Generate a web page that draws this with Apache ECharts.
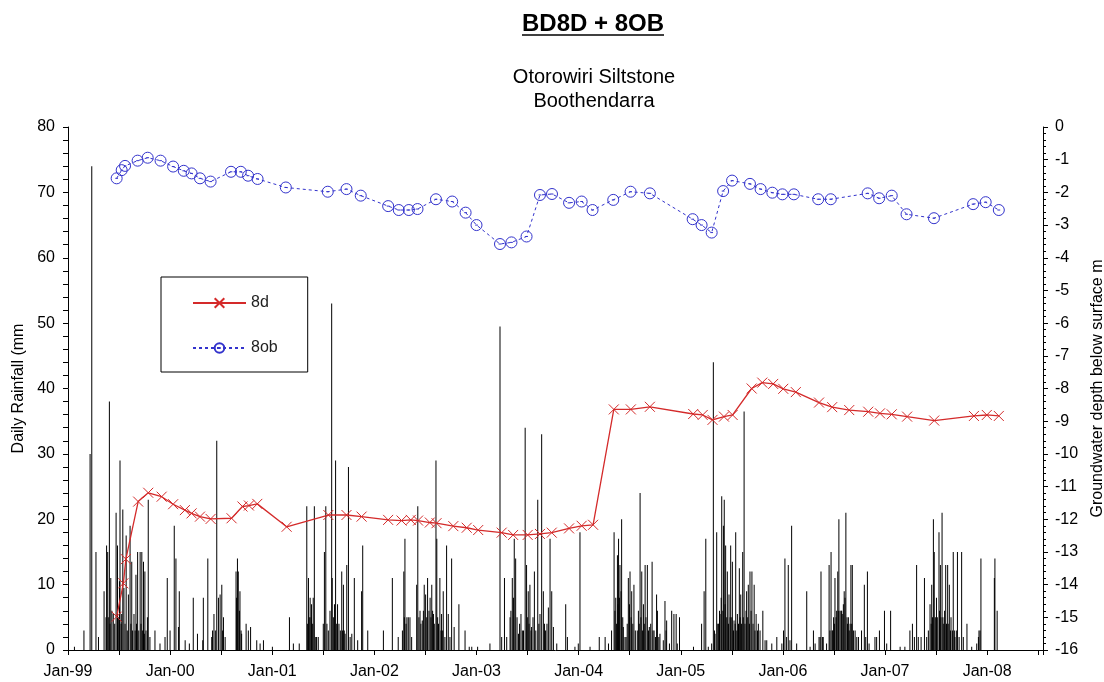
<!DOCTYPE html>
<html lang="en">
<head>
<meta charset="UTF-8">
<title>BD8D + 8OB</title>
<script src="https://cdn.jsdelivr.net/npm/echarts@6/dist/echarts.min.js"></script>
<style>
  html, body { margin: 0; padding: 0; background: #fff; }
  #chart { width: 1104px; height: 682px; }
</style>
</head>
<body>
<div id="chart"></div>
<script type="text/javascript">
    // day 0 of the time axis
    var startDate = '1999-01-01';

    // daily rainfall (mm), day = days after 1 Jan 1999
    var rainDay = [23, 57, 79, 85, 100, 109, 129, 136, 138, 142, 144, 148, 150, 153, 157, 162, 167, 172, 177, 180,
        184, 186, 190, 192, 196, 200, 204, 208, 212, 216, 222, 225, 228, 231, 236, 240, 243, 245, 249, 253,
        258, 261, 264, 267, 270, 273, 275, 279, 284, 287, 293, 311, 329, 347, 355, 365, 380, 386, 395, 398,
        419, 434, 448, 463, 482, 484, 500, 514, 517, 522, 527, 532, 538, 544, 550, 553, 556, 562, 601, 603,
        606, 609, 613, 615, 619, 621, 637, 645, 653, 675, 687, 699, 731, 792, 806, 827,
        854, 857, 860, 863, 866, 869, 871, 875, 877, 881, 886, 889, 895, 913, 917, 922, 926, 931, 937, 943,
        945, 949, 953, 957, 961, 964, 969, 974, 979, 982, 985, 988, 991, 997, 1003, 1009, 1015, 1024, 1036, 1050,
        1054, 1072, 1128, 1160, 1181, 1196, 1201, 1203, 1205, 1209, 1212, 1217, 1223, 1229, 1247, 1251, 1255, 1259, 1262, 1267,
        1271, 1274, 1279, 1283, 1286, 1291, 1295, 1298, 1301, 1304, 1307, 1310, 1316, 1319, 1322, 1325, 1330, 1334, 1336, 1340,
        1342, 1348, 1354, 1360, 1366, 1372, 1381, 1398, 1420, 1435, 1444, 1465, 1509, 1545, 1551, 1561, 1569, 1581, 1584, 1589,
        1593, 1596, 1601, 1606, 1611, 1615, 1620, 1625, 1629, 1635, 1640, 1644, 1646, 1649, 1652, 1656, 1658, 1663, 1668, 1673,
        1680, 1684, 1688, 1694, 1700, 1704, 1708, 1713, 1718, 1724, 1730, 1736,
        1748, 1780, 1786, 1813, 1825, 1831, 1867, 1900, 1921, 1933, 1944, 1953, 1956, 1959, 1962, 1965, 1967, 1969, 1972, 1974,
        1978, 1980, 1984, 1986, 1992, 1996, 2000, 2004, 2008, 2010, 2014, 2016, 2020, 2024, 2029, 2036, 2040, 2043, 2046, 2049,
        2052, 2055, 2058, 2061, 2064, 2067, 2072, 2076, 2079, 2084, 2089, 2092, 2096, 2101, 2105, 2108, 2113, 2117, 2129, 2135,
        2139, 2141, 2151, 2159, 2167, 2175, 2179, 2187, 2237, 2266, 2275, 2281, 2290, 2302, 2308, 2312, 2314, 2320, 2324, 2326,
        2330, 2332, 2336, 2338, 2342, 2344, 2347, 2350, 2352, 2356, 2358, 2362, 2364, 2368, 2370, 2374, 2376, 2380, 2382, 2386,
        2388, 2392, 2394, 2398, 2401, 2404, 2406, 2409, 2413, 2415, 2418, 2421, 2425, 2427, 2431, 2433, 2437, 2439, 2443, 2446,
        2450, 2454, 2457, 2461, 2466, 2469, 2475, 2485, 2493, 2499, 2517, 2535, 2553, 2559, 2564, 2570, 2576, 2582, 2588, 2606,
        2642, 2654, 2666, 2672, 2686, 2690, 2693, 2698, 2701, 2713, 2722, 2725, 2729, 2733, 2735, 2738, 2741, 2743, 2747, 2749,
        2753, 2755, 2757, 2761, 2765, 2767, 2769, 2773, 2776, 2779, 2782, 2786, 2788, 2791, 2794, 2797, 2800, 2803, 2805, 2809,
        2815, 2821, 2827, 2838, 2848, 2853, 2859, 2865, 2886, 2892, 2902, 2920, 2928, 2942, 2976, 2993, 3011, 3020, 3027, 3035,
        3041, 3051, 3063, 3071, 3077, 3083, 3087, 3089, 3092, 3095, 3098, 3102, 3106, 3109, 3115, 3117, 3120, 3122, 3126, 3129,
        3132, 3135, 3139, 3142, 3146, 3148, 3152, 3156, 3158, 3163, 3166, 3170, 3172, 3177, 3181, 3187, 3196, 3202, 3215, 3232,
        3250, 3256, 3258, 3262, 3265, 3313, 3315, 3323];
    var rainMm = [0.5, 3, 30, 74, 15, 2, 9, 5, 16, 15, 5, 38, 4, 11, 6, 5.5, 4, 21, 16, 5,
        10.5, 29, 4, 5.5, 21.5, 9.5, 4, 17.5, 3, 8.5, 19, 4, 13.5, 3, 5.5, 3, 11.5, 4, 15, 3,
        15, 4, 15, 3, 13.5, 2.5, 12, 3, 5, 23, 2, 3, 1, 2, 11, 3, 19, 14, 3.5, 9,
        1.5, 1, 8, 2.5, 1.5, 8, 14, 2, 3, 5.5, 3, 32, 8, 8.5, 10, 3, 5, 2, 12, 8,
        14, 12, 6, 9, 3, 2.5, 4, 3, 3.5, 1.5, 1, 1.5, 0.5, 5, 1, 1,
        22, 4, 11, 5, 8, 5, 7, 4, 8, 22, 2, 2, 2, 4, 15, 22, 4, 3, 6, 53,
        11, 5, 7, 29, 4, 7, 4, 3, 12, 3, 10, 3, 2.5, 13, 28, 2, 2.5, 11, 1.5, 9,
        16, 3, 3, 11, 2, 3, 12, 5, 17, 4, 5, 5, 5, 2, 10, 22, 5, 6, 4, 4.5,
        6, 10, 8.5, 5, 11, 6, 8, 5, 10, 6, 5.5, 4, 29, 17, 5, 4, 11, 3, 5.5, 3,
        9, 2, 16, 5.5, 2, 14, 3.5, 7, 3, 0.5, 0.5, 0.5, 1, 49.5, 2, 11, 2, 5, 6, 11,
        8, 17, 14, 5, 2.5, 4, 5.5, 3, 3, 34, 13, 5, 9, 4, 10, 3, 3.5, 5, 12, 3,
        23, 4, 5.5, 33, 9, 4, 3, 4, 6.5, 17, 9, 3.5,
        1, 7, 2, 0.5, 1, 18, 0.5, 2, 2, 1, 3, 18, 6, 8, 4, 14.5, 7, 17, 8, 13,
        9, 20, 5, 3.5, 2, 2, 4, 11, 7, 12, 5, 9, 4, 10, 3, 3, 6, 4, 24, 5,
        12, 3, 7, 4, 13, 5, 13, 3, 3.5, 4, 13.5, 3, 3, 2, 8.5, 6, 2, 2.5, 1.5, 7.5,
        3, 4.5, 1, 6, 5.5, 5.5, 1, 5, 0.5, 4, 9, 17, 0.5, 1, 44, 3, 2.5, 18, 4, 4,
        6, 5.5, 8, 23.5, 6, 19, 23, 7, 16, 5, 12, 4, 8.5, 5, 16, 5, 13.5, 3, 4.5, 4,
        18, 3, 5.5, 4, 12.5, 5, 8.5, 4, 15, 5, 36.5, 4, 6, 9, 5, 10, 4, 12, 6, 12,
        4, 10, 3, 5.5, 3, 4, 3, 6, 1.5, 1.5, 1, 2, 1, 3, 14, 2, 13, 1.5, 19, 1,
        9, 0.5, 3, 1, 2, 2, 12, 2, 2, 1, 13, 3, 15, 3, 3, 5, 4, 11, 5, 6,
        12, 6, 20, 6, 6, 6, 5.5, 7, 9, 8, 21, 5, 4, 5, 3, 4, 13, 4, 13, 3,
        3, 2, 2, 3, 10, 2, 12, 1, 2, 2, 3, 6, 1, 6, 0.5, 0.5, 3, 4, 2, 13,
        2, 2, 11, 2, 3, 7, 4, 10, 5, 20, 15, 5, 8, 5, 18, 6, 13, 5, 21, 5,
        4, 6, 13, 4, 13, 4, 10, 3, 5, 3, 15, 3, 2, 3, 15, 2, 15, 2, 4, 0.5,
        1, 2, 3, 3, 14, 11, 14, 6];

    // groundwater depth below surface (m)
    var d8Dates = ['1999-06-24', '1999-07-18', '1999-07-27', '1999-09-09', '1999-10-15', '1999-12-02', '2000-01-12',
        '2000-02-23', '2000-03-18', '2000-04-17', '2000-05-25', '2000-08-08', '2000-09-16', '2000-10-09', '2000-11-08',
        '2001-02-21', '2001-07-20', '2001-09-23', '2001-11-16', '2002-02-19', '2002-04-08', '2002-05-11', '2002-06-06',
        '2002-07-18', '2002-08-11', '2002-10-10', '2002-11-27', '2003-01-07', '2003-04-01', '2003-05-12', '2003-07-03',
        '2003-08-16', '2003-09-27', '2003-11-28', '2004-01-12', '2004-02-22', '2004-05-06', '2004-07-06', '2004-09-12',
        '2005-02-14', '2005-03-20', '2005-04-24', '2005-06-04', '2005-07-05', '2005-09-11', '2005-10-19', '2005-11-27',
        '2006-01-02', '2006-02-16', '2006-05-10', '2006-06-26', '2006-08-26', '2006-11-02', '2006-12-14', '2007-01-25',
        '2007-03-21', '2007-06-26', '2007-11-15', '2007-12-31', '2008-02-12'];
    var d8Depth = [-14.98, -13.96, -13.22, -11.46, -11.19, -11.31, -11.54,
        -11.72, -11.82, -11.92, -11.99, -11.97, -11.61, -11.58, -11.53,
        -12.23, -11.87, -11.87, -11.92, -12.02, -12.04, -12.02, -12.04,
        -12.10, -12.12, -12.21, -12.26, -12.33, -12.41, -12.48, -12.48,
        -12.45, -12.41, -12.28, -12.20, -12.17, -8.64, -8.64, -8.56,
        -8.78, -8.81, -8.96, -8.86, -8.81, -8.00, -7.82, -7.86,
        -8.01, -8.11, -8.43, -8.57, -8.66, -8.71, -8.76, -8.79,
        -8.86, -8.98, -8.84, -8.81, -8.84];

    var ob8Dates = ['1999-06-24', '1999-07-12', '1999-07-24', '1999-09-07', '1999-10-13', '1999-11-28', '2000-01-12',
        '2000-02-19', '2000-03-18', '2000-04-17', '2000-05-25', '2000-08-06', '2000-09-10', '2000-10-06', '2000-11-09',
        '2001-02-18', '2001-07-18', '2001-09-23', '2001-11-13', '2002-02-19', '2002-03-29', '2002-05-04', '2002-06-04',
        '2002-08-09', '2002-10-06', '2002-11-23', '2003-01-01', '2003-03-26', '2003-05-06', '2003-06-29', '2003-08-16',
        '2003-09-28', '2003-11-28', '2004-01-12', '2004-02-20', '2004-05-04', '2004-07-05', '2004-09-12', '2005-02-12',
        '2005-03-16', '2005-04-21', '2005-06-01', '2005-07-03', '2005-09-05', '2005-10-13', '2005-11-24', '2005-12-30',
        '2006-02-09', '2006-05-07', '2006-06-21', '2006-10-31', '2006-12-11', '2007-01-25', '2007-03-19', '2007-06-25',
        '2007-11-12', '2007-12-27', '2008-02-12'];
    var ob8Depth = [-1.57, -1.32, -1.19, -1.03, -0.94, -1.03, -1.21,
        -1.34, -1.42, -1.57, -1.67, -1.37, -1.37, -1.49, -1.59,
        -1.85, -1.98, -1.90, -2.10, -2.42, -2.54, -2.54, -2.51,
        -2.21, -2.28, -2.62, -3.00, -3.58, -3.53, -3.35, -2.08,
        -2.05, -2.32, -2.28, -2.54, -2.23, -1.98, -2.03, -2.82,
        -3.00, -3.23, -1.96, -1.64, -1.74, -1.90, -2.01, -2.06,
        -2.06, -2.21, -2.21, -2.03, -2.18, -2.10, -2.67, -2.79,
        -2.36, -2.30, -2.54];

    var halfYear = 182.625;
    var lastDay = 3487;

    function dayOf(s) {
        return Math.round((Date.parse(s) - Date.parse(startDate)) / 86400000);
    }
    function pairs(xs, ys, conv) {
        return xs.map(function (x, i) { return [conv ? conv(x) : x, ys[i]]; });
    }

    var font = 'Liberation Sans, Arial, sans-serif';
    var xMark = 'path://M0,0L10,10M10,0L0,10';
    var oMark = 'path://M12,6A6,6 0 1 1 0,6A6,6 0 1 1 12,6ZM4.5,6L7.5,6';

    var myChart = echarts.init(document.getElementById('chart'));
    var option = {
        animation: false,
        backgroundColor: '#fff',
        textStyle: {fontFamily: font, color: '#000'},
        title: [
            {
                text: 'BD8D + 8OB',
                left: 588,
                top: 7,
                textAlign: 'center',
                textStyle: {fontFamily: font, fontSize: 24, fontWeight: 'bold', color: '#000'}
            },
            {
                text: 'Otorowiri Siltstone\nBoothendarra',
                left: 589,
                top: 60,
                textAlign: 'center',
                textStyle: {fontFamily: font, fontSize: 20, fontWeight: 'normal', lineHeight: 24, color: '#000'}
            }
        ],
        graphic: [
            {type: 'line', shape: {x1: 522, y1: 35, x2: 664, y2: 35}, style: {stroke: '#000', lineWidth: 1.5}}
        ],
        legend: {
            data: ['8d', '8ob'],
            orient: 'vertical',
            left: 161,
            top: 277,
            padding: [18, 30, 16, 31],
            itemWidth: 53,
            itemHeight: 12,
            itemGap: 29,
            backgroundColor: '#fff',
            borderColor: '#000',
            borderWidth: 1,
            borderRadius: 0,
            textStyle: {fontFamily: font, fontSize: 16, color: '#222'}
        },
        grid: {left: 68, right: 61, top: 127, bottom: 32, outerBoundsMode: 'none'},
        xAxis: {
            type: 'value',
            min: 0,
            max: lastDay,
            interval: halfYear,
            splitLine: {show: false},
            axisLine: {lineStyle: {color: '#000'}},
            axisTick: {length: 5, lineStyle: {color: '#000'}},
            axisLabel: {
                fontFamily: font, fontSize: 16, color: '#000', margin: 14,
                formatter: function (v) {
                    var k = Math.round(v / halfYear);
                    if (Math.abs(v - k * halfYear) > 1 || k % 2) return '';
                    var yy = (1999 + k / 2) % 100;
                    return 'Jan-' + (yy < 10 ? '0' : '') + yy;
                }
            }
        },
        yAxis: [
            {
                type: 'value',
                position: 'left',
                min: 0,
                max: 80,
                interval: 10,
                name: 'Daily Rainfall (mm',
                nameLocation: 'middle',
                nameRotate: 90,
                nameGap: 41,
                nameTextStyle: {fontFamily: font, fontSize: 16, color: '#000'},
                splitLine: {show: false},
                axisLine: {show: true, lineStyle: {color: '#000'}},
                axisTick: {show: true, length: 5, lineStyle: {color: '#000'}},
                minorTick: {show: true, splitNumber: 5, length: 5, lineStyle: {color: '#000'}},
                axisLabel: {fontFamily: font, fontSize: 16, color: '#000', margin: 13}
            },
            {
                type: 'value',
                position: 'right',
                min: -16,
                max: 0,
                interval: 1,
                name: 'Groundwater depth below surface m',
                nameLocation: 'middle',
                nameRotate: 90,
                nameGap: 47,
                nameTextStyle: {fontFamily: font, fontSize: 16, color: '#000'},
                splitLine: {show: false},
                axisLine: {show: true, lineStyle: {color: '#000'}},
                axisTick: {show: true, length: 5, lineStyle: {color: '#000'}},
                minorTick: {show: true, splitNumber: 5, length: 3, lineStyle: {color: '#000'}},
                axisLabel: {fontFamily: font, fontSize: 16, color: '#000', margin: 12}
            }
        ],
        series: [
            {
                name: 'rain',
                type: 'bar',
                yAxisIndex: 0,
                barWidth: 1,
                itemStyle: {color: '#000'},
                data: pairs(rainDay, rainMm)
            },
            {
                name: '8d',
                type: 'line',
                yAxisIndex: 1,
                symbol: xMark,
                symbolSize: 10,
                lineStyle: {color: '#d42a2a', width: 1.3},
                itemStyle: {color: 'rgba(0,0,0,0)', borderColor: '#d42a2a', borderWidth: 1},
                data: pairs(d8Dates, d8Depth, dayOf)
            },
            {
                name: '8ob',
                type: 'line',
                yAxisIndex: 1,
                symbol: oMark,
                symbolSize: 11,
                lineStyle: {color: '#3333cc', width: 1, type: [3, 3]},
                itemStyle: {color: 'rgba(0,0,0,0)', borderColor: '#3333cc', borderWidth: 1},
                data: pairs(ob8Dates, ob8Depth, dayOf)
            }
        ]
    };
    myChart.setOption(option);
</script>
</body>
</html>
